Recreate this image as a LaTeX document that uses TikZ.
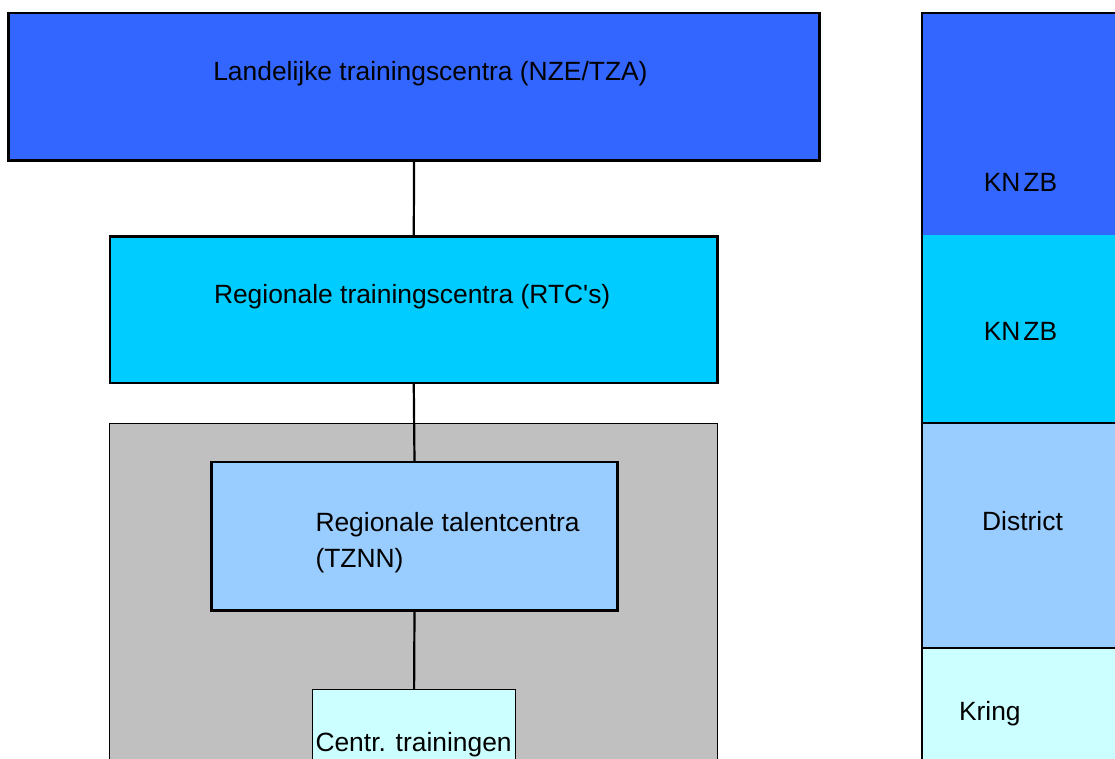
\documentclass[tikz,border=0pt]{standalone}
\usepackage{fontspec}
\setmainfont{Liberation Sans}[Ligatures=TeXOff]
\definecolor{cnat}{HTML}{3366FF}
\definecolor{creg}{HTML}{00CCFF}
\definecolor{ctal}{HTML}{99CCFF}
\definecolor{cloc}{HTML}{CCFFFF}
\definecolor{cgray}{HTML}{C0C0C0}
\begin{document}
\begin{tikzpicture}[x=1pt,y=-1pt,
  every node/.style={inner sep=0pt,outer sep=0pt},
  area/.style 2 args={rectangle,anchor=north west,minimum width=#1pt,minimum height=#2pt},
  heavy/.style={draw=black,line width=2.7pt},
  light/.style={draw=black,line width=1pt},
  conn/.style={draw=black,line width=2.2pt},
  sepline/.style={draw=black,line width=2.2pt},
  lbl/.style={font=\fontsize{26.4}{36}\selectfont,text=black}]
\useasboundingbox (0,0) rectangle (1115,758);
\clip (0,0) rectangle (1115,758);
\fill[white] (0,0) rectangle (1115,758);
% left hierarchy
\node[area={608}{350},fill=cgray,light] (grey) at (109.5,423) {};
\node[area={810.8}{147.5},fill=cnat,heavy] (top) at (8.7,13) {};
\node[area={607.5}{146.7},fill=creg,heavy] (rtc) at (110,236.3) {};
\node[area={406}{148.5},fill=ctal,heavy] (tznn) at (211.5,462) {};
\node[area={202.6}{90},fill=cloc,light] (centr) at (312.8,689) {};
\draw[conn] (top.south) -- (rtc.north);
\draw[conn] (rtc.south) -- (tznn.north);
\draw[conn] (tznn.south) -- (centr.north);
\node[lbl,anchor=base west] (ttop) at (213.3,80) {Landelijke trainingscentra (NZE/TZA)};
\node[lbl,anchor=base west] (trtc) at (214,303) {Regionale trainingscentra (RTC's)};
\node[lbl,anchor=base west] (ttzA) at (315.5,531) {Regionale talentcentra};
\node[lbl,anchor=base west] (ttzB) at (315.5,567) {(TZNN)};
\node[lbl,anchor=base west] (tcen) at (315.5,751.5) {Centr. trainingen};
% right column
\node[area={220}{222},fill=cnat] (knA) at (921.7,13) {};
\node[area={220}{188},fill=creg] (knB) at (921.7,235) {};
\node[area={220}{225},fill=ctal] (dist) at (921.7,423) {};
\node[area={220}{130},fill=cloc] (kring) at (921.7,648) {};
\draw[sepline] (knA.north east) -- (knA.north west) -- (kring.south west);
\draw[sepline] (dist.north west) -- (dist.north east);
\draw[sepline] (kring.north west) -- (kring.north east);
\node[lbl,anchor=base] (tknA) at (1020.5,191) {KN\kern3pt ZB};
\node[lbl,anchor=base] (tknB) at (1020.5,340) {KN\kern3pt ZB};
\node[lbl,anchor=base] (tdist) at (1022.5,530) {District};
\node[lbl,anchor=base west] (tkring) at (959,720) {Kring};
\end{tikzpicture}
\end{document}
